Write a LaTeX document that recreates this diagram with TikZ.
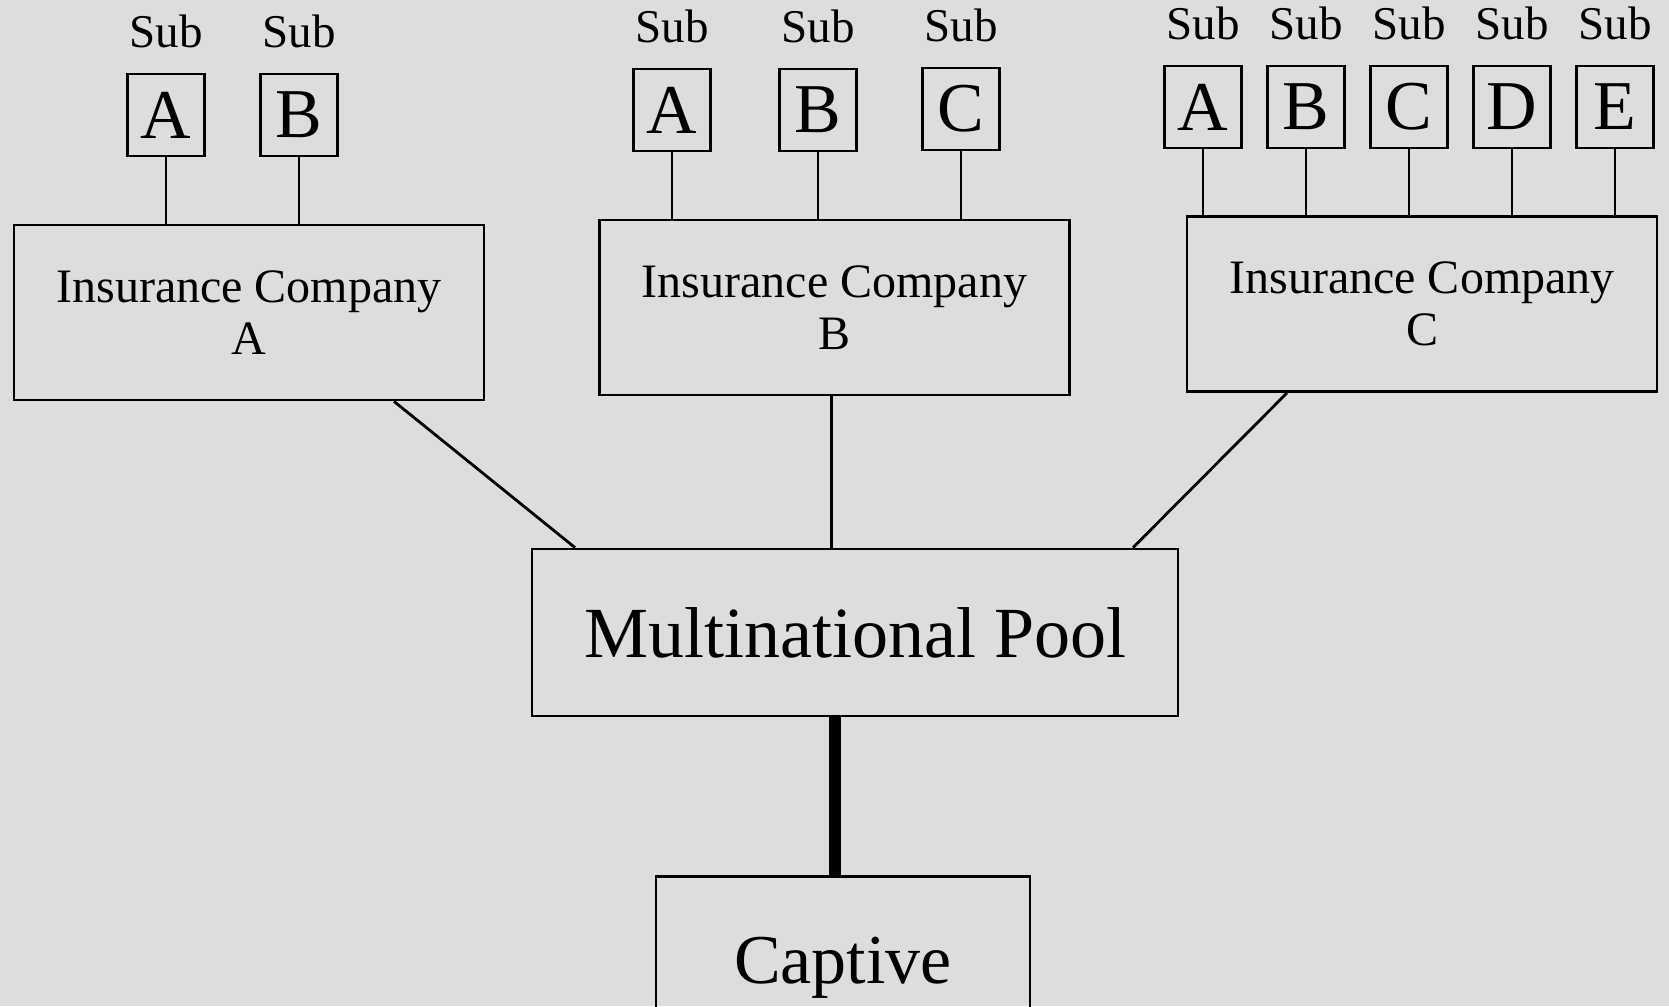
\documentclass[tikz,border=0pt]{standalone}
\usepackage{fontspec}
\setmainfont{Liberation Serif}
\usetikzlibrary{positioning}
\definecolor{pagegray}{RGB}{221,221,221}
\tikzset{
    subnode/.style = {rectangle, line width=2.8pt, draw=black, minimum width=77pt, minimum height=82pt, inner sep=0pt, font=\fontsize{70}{70}\selectfont, label={[sublabel]above:Sub}},
    sublabel/.style = {inner sep=0pt, label distance=24pt, font=\fontsize{47}{47}\selectfont},
    compnode/.style = {rectangle, line width=2.8pt, draw=black, align=center, minimum width=470pt, minimum height=175pt, font=\fontsize{48}{52}\selectfont},
    poolnode/.style = {rectangle, line width=2.8pt, draw=black, minimum width=646pt, minimum height=167pt, font=\fontsize{72}{72}\selectfont},
    captnode/.style = {rectangle, line width=2.8pt, draw=black, minimum width=374pt, inner ysep=0pt, text height=107pt, text depth=60pt, font=\fontsize{70}{70}\selectfont},
    edgen/.style = {-, line width=2.8pt, black},
    edgek/.style = {-, line width=12pt, black} % pool to captive
}

\begin{document}
\begin{tikzpicture}[x=1pt, y=-1pt]
  \fill[pagegray] (0,0) rectangle (1669,1006);
  \clip (0,0) rectangle (1669,1006);

  % insurance companies
  \node[compnode] (ia) at (249,312.5) {Insurance Company\\A};
  \node[compnode] (ib) at (834.5,307.5) {Insurance Company\\B};
  \node[compnode] (ic) at (1422,304) {Insurance Company\\C};

  % subs
  \node[subnode] (a1) at (166,115) {A};
  \node[subnode] (a2) at (299,115) {B};

  \node[subnode] (b1) at (672,110) {A};
  \node[subnode] (b2) at (818,110) {B};
  \node[subnode] (b3) at (961,109) {C};

  \node[subnode] (c1) at (1203,107) {A};
  \node[subnode] (c2) at (1306,107) {B};
  \node[subnode] (c3) at (1409,107) {C};
  \node[subnode] (c4) at (1512,107) {D};
  \node[subnode] (c5) at (1615,107) {E};

  \node[poolnode] (pool) at (855,632.5) {Multinational Pool};
  \node[captnode, anchor=north] (cap) at (843,875) {Captive};

  \draw[edgen] (a1) -- (a1 |- ia.north);
  \draw[edgen] (a2) -- (a2 |- ia.north);
  \draw[edgen] (b1) -- (b1 |- ib.north);
  \draw[edgen] (b2) -- (b2 |- ib.north);
  \draw[edgen] (b3) -- (b3 |- ib.north);
  \draw[edgen] (c1) -- (c1 |- ic.north);
  \draw[edgen] (c2) -- (c2 |- ic.north);
  \draw[edgen] (c3) -- (c3 |- ic.north);
  \draw[edgen] (c4) -- (c4 |- ic.north);
  \draw[edgen] (c5) -- (c5 |- ic.north);

  \draw[edgen] ([xshift=145pt]ia.south) -- ([xshift=-280pt]pool.north);
  \draw[edgen] ([xshift=-3pt]ib.south) -- ([xshift=-3pt]ib.south |- pool.north);
  \draw[edgen] ([xshift=-135pt]ic.south) -- ([xshift=278pt]pool.north);
  \draw[edgek] ([xshift=-20pt]pool.south) -- ([xshift=-20pt]pool.south |- cap.north);
\end{tikzpicture}
\end{document}
